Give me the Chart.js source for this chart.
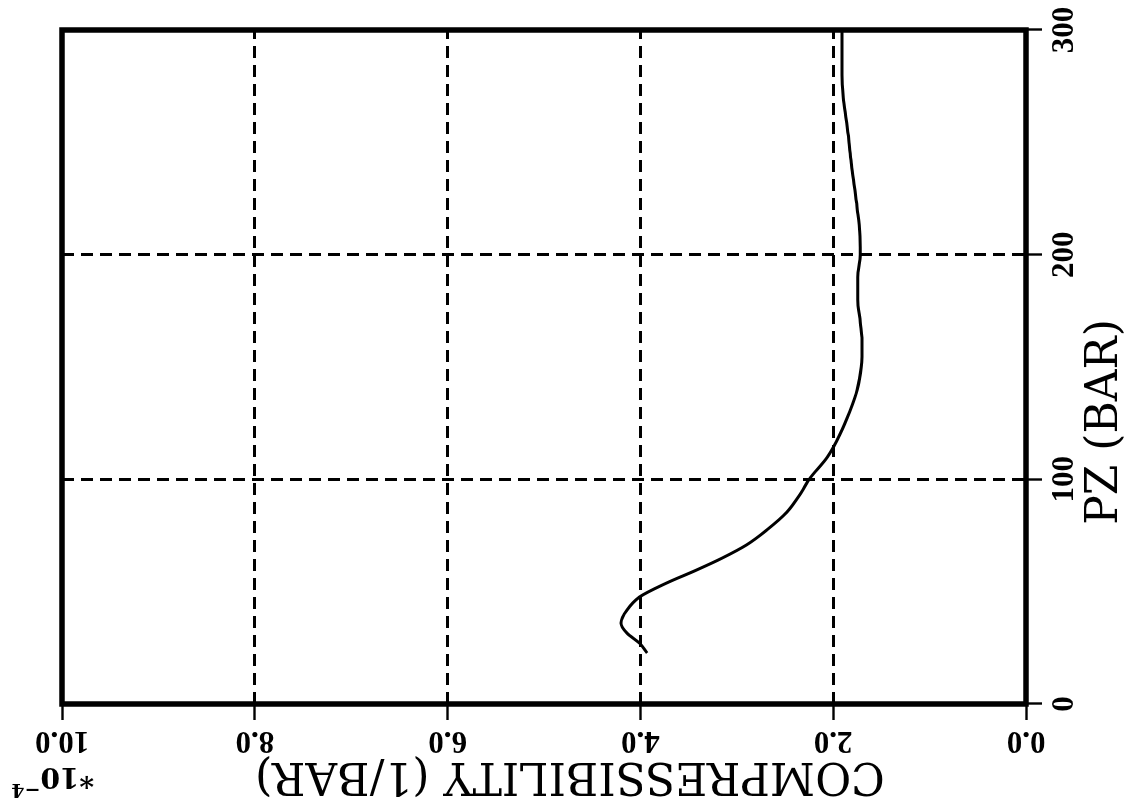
<!DOCTYPE html>
<html>
<head>
<meta charset="utf-8">
<title>Compressibility vs PZ</title>
<script src="https://cdn.jsdelivr.net/npm/chart.js@4/dist/chart.umd.min.js"></script>
<style>
  html, body { margin: 0; padding: 0; background: #fff; overflow: hidden; }
  body { width: 1131px; height: 811px; position: relative; }
  /* plot is laid out upright (PZ along the bottom) and then turned a quarter left */
  #plotWrap {
    position: absolute;
    left: 160px;
    top: -160px;
    width: 811px;
    height: 1131px;
    transform: rotate(-90deg);
  }
</style>
</head>
<body>
<div id="plotWrap">
  <canvas id="chartCompress" width="811" height="1131"></canvas>
</div>

<script>
/* ===================================
   Data
   =================================== */

// pressure PZ (bar)
const pzValues = [
  22.7, 27.1, 31.6, 36.0, 41.8, 47.6, 53.8, 59.6, 65.0, 70.8,
  77.4, 85.4, 94.3, 100, 110, 120, 130, 140, 150, 160,
  170, 180, 190, 200, 210, 220, 230, 240, 250, 260,
  270, 280, 290, 300
];

// compressibility, in units of 1e-4 1/bar
const compValues = [
  3.93, 4.01, 4.14, 4.20, 4.14, 4.01, 3.73, 3.42, 3.15, 2.90,
  2.69, 2.48, 2.33, 2.25, 2.06, 1.93, 1.83, 1.75, 1.71, 1.70,
  1.72, 1.745, 1.745, 1.72, 1.725, 1.75, 1.78, 1.81, 1.835, 1.865,
  1.895, 1.91, 1.91, 1.91
];

const pzRange = [0, 300];
const pzStep = 100;
const compRange = [0, 10];
const compStep = 2;

const pzTitle = 'PZ (BAR)';
const compTitle = 'COMPRESSIBILITY (1/BAR)';
const compScaleBase = '*10';
const compScaleExp = '\u22124';


/* ===================================
   Plugins
   =================================== */

// heavy box round the plotting area
const frameBox = {
  id: 'frameBox',
  afterDatasetsDraw(chart) {
    const { ctx, chartArea: a } = chart;
    ctx.save();
    ctx.strokeStyle = '#000';
    ctx.lineWidth = 5.5;
    ctx.strokeRect(a.left, a.top, a.right - a.left, a.bottom - a.top);
    ctx.restore();
  }
};

// axis titles and the 10^-4 multiplier
const axisText = {
  id: 'axisText',
  afterDraw(chart) {
    const { ctx, chartArea: a } = chart;

    ctx.save();
    ctx.fillStyle = '#000';
    ctx.font = '44px "DejaVu Serif"';
    ctx.textBaseline = 'alphabetic';
    ctx.textAlign = 'center';
    ctx.fillText(pzTitle, a.left + 282, a.bottom + 91);

    // y title reads bottom to top
    ctx.translate(48, a.top + 508);
    ctx.rotate(-Math.PI / 2);
    ctx.fillText(compTitle, 0, 0);
    ctx.restore();

    ctx.save();
    ctx.fillStyle = '#000';
    ctx.translate(43, 94);
    ctx.rotate(-Math.PI / 2);
    ctx.textAlign = 'left';
    ctx.textBaseline = 'alphabetic';
    ctx.font = 'bold 28px "DejaVu Serif"';
    ctx.fillText(compScaleBase, 0, 0);
    const w = ctx.measureText(compScaleBase).width;
    ctx.font = 'bold 19px "DejaVu Serif"';
    ctx.fillText(compScaleExp, w, -16);
    ctx.restore();
  }
};


/* ===================================
   Chart
   =================================== */
document.addEventListener('DOMContentLoaded', function () {

  const tickFont = { family: 'Liberation Serif', size: 31, weight: 'bold' };

  const ctx = document.getElementById('chartCompress').getContext('2d');

  new Chart(ctx, {

    type: 'line',

    data: {
      datasets: [{
        label: 'Compressibility',
        data: pzValues.map((p, i) => ({ x: p, y: compValues[i] })),
        borderColor: '#000',
        borderWidth: 3,
        pointRadius: 0,
        fill: false,
        cubicInterpolationMode: 'monotone'
      }]
    },

    options: {
      responsive: false,
      animation: false,
      layout: {
        padding: { top: 62, right: 30, left: 0, bottom: 0 }
      },
      plugins: {
        legend: { display: false },
        tooltip: { enabled: false }
      },
      scales: {
        x: {
          type: 'linear',
          position: 'bottom',
          min: pzRange[0],
          max: pzRange[1],
          afterFit: s => { s.height = 105; },
          ticks: {
            stepSize: pzStep,
            color: '#000',
            font: tickFont,
            padding: 4,
            maxRotation: 0
          },
          grid: {
            color: '#000',
            lineWidth: 3,
            tickLength: 16,
            tickWidth: 2.4,
            tickColor: '#000',
            tickBorderDash: []
          },
          border: { display: false, dash: [12, 7] }
        },
        y: {
          type: 'linear',
          position: 'left',
          min: compRange[0],
          max: compRange[1],
          afterFit: s => { s.width = 107; },
          ticks: {
            stepSize: compStep,
            color: '#000',
            font: tickFont,
            minRotation: 90,
            maxRotation: 90,
            crossAlign: 'center',
            padding: -7,
            callback: v => v.toFixed(1)
          },
          grid: {
            color: '#000',
            lineWidth: 3,
            tickLength: 16,
            tickWidth: 2.4,
            tickColor: '#000',
            tickBorderDash: []
          },
          border: { display: false, dash: [12, 7] }
        }
      }
    },

    plugins: [frameBox, axisText]

  });

});
</script>
</body>
</html>
